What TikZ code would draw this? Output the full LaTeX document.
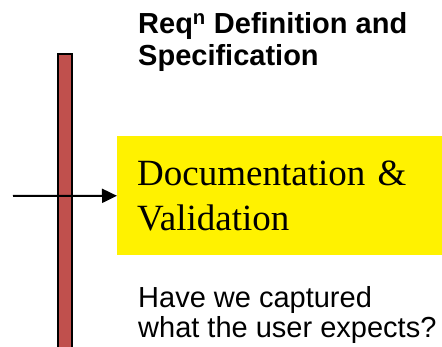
\documentclass[tikz,border=0pt]{standalone}
\usepackage{fontspec}
\setmainfont{Liberation Serif}
\setsansfont{Liberation Sans}
\usetikzlibrary{arrows.meta, positioning}

\definecolor{barred}{HTML}{C0504D}

\tikzstyle{phase} = [rectangle, 
minimum width=325pt, 
minimum height=119pt,
inner xsep=20pt, inner ysep=0pt,
text width=285pt,
align=left,
fill=yellow,
font=\fontsize{37}{45}\selectfont\rmfamily]
\tikzstyle{heading} = [inner sep=0pt, 
align=left, 
font=\fontsize{29}{32}\selectfont\sffamily\bfseries]
\tikzstyle{question} = [inner sep=0pt, 
align=left, 
font=\fontsize{29}{30}\selectfont\sffamily]
\tikzstyle{timeline} = [rectangle, 
minimum width=14pt, 
minimum height=296pt, 
inner sep=0pt, 
draw=black, line width=2pt, 
fill=barred]
\tikzstyle{arrow} = [line width=2pt,-{Triangle[length=15pt, width=14pt]}]

\begin{document}
\begin{tikzpicture}[x=1pt, y=1pt]
\useasboundingbox (0,0) rectangle (442,347);

\node (bar) [timeline, anchor=north] at (65,294) {};
\node (doc) [phase, anchor=west] at (117,151.5) {Documentation \&\\ Validation};
\node (req) [heading, anchor=north west] at (138,335) {Req\textsuperscript{n} Definition and\\ Specification};
\node (check) [question, anchor=north west] at (138,61) {Have we captured\\ what the user expects?};
\coordinate (in) at (13,151);

\draw [arrow] (in) -- (doc);

\end{tikzpicture}
\end{document}
